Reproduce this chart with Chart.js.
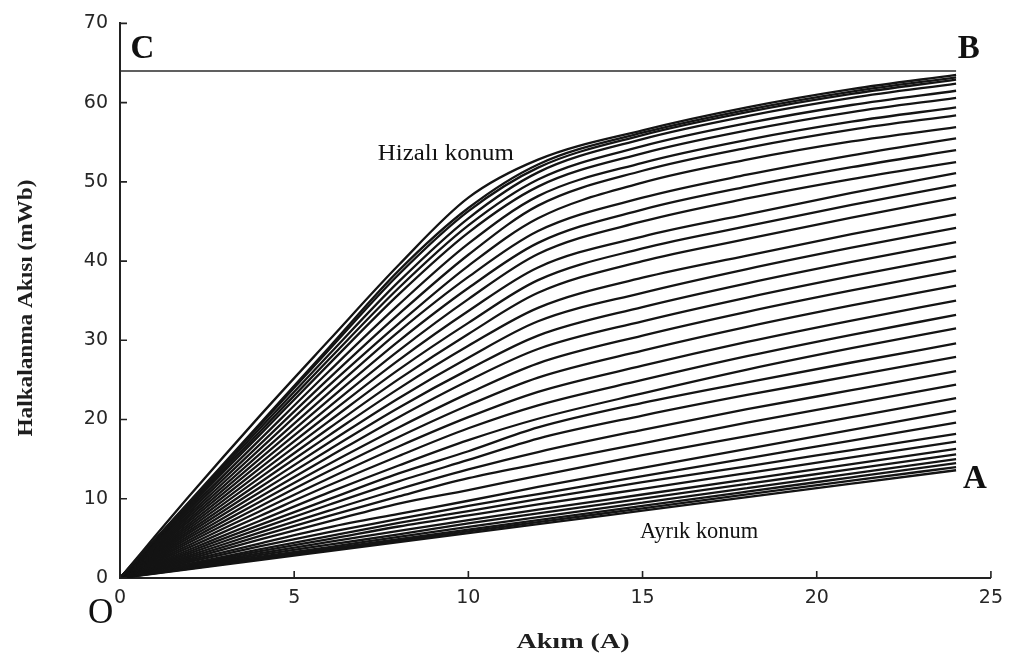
<!DOCTYPE html>
<html>
<head>
<meta charset="utf-8">
<title>Halkalanma akısı – akım eğrileri</title>
<script src="https://cdn.jsdelivr.net/npm/chart.js@4"></script>
<style>
  html, body { margin: 0; padding: 0; background: #ffffff; }
  #wrap { width: 1012px; height: 662px; }
</style>
</head>
<body>
<div id="wrap"><canvas id="chart"></canvas></div>
<script>
// Current samples (A) shared by every flux-linkage curve
const currentA = [0, 2, 4, 6, 8, 10, 12, 15, 18, 21, 24];

// Flux linkage (mWb), one curve per rotor position, aligned (psi00) to unaligned (psi38)
const psi00 = [0, 10.4, 20.4, 30.0, 39.5, 48.0, 52.8, 56.5, 59.4, 61.7, 63.5];
const psi01 = [0, 9.7, 19.4, 29.1, 38.8, 46.7, 52.2, 56.2, 59.1, 61.4, 63.2];
const psi02 = [0, 9.6, 19.2, 28.8, 38.3, 46.3, 51.8, 55.9, 58.8, 61.1, 62.9];
const psi03 = [0, 9.4, 18.8, 28.2, 37.4, 45.4, 51.2, 55.4, 58.3, 60.6, 62.4];
const psi04 = [0, 9.2, 18.4, 27.6, 36.6, 44.5, 50.3, 54.5, 57.4, 59.7, 61.5];
const psi05 = [0, 9.0, 18.0, 27.0, 35.8, 43.6, 49.4, 53.6, 56.5, 58.8, 60.6];
const psi06 = [0, 8.7, 17.4, 26.1, 34.5, 42.2, 48.2, 52.4, 55.3, 57.6, 59.4];
const psi07 = [0, 8.4, 16.8, 25.2, 33.3, 40.8, 47.0, 51.4, 54.3, 56.6, 58.4];
const psi08 = [0, 8.1, 16.2, 24.3, 32.1, 39.4, 45.4, 49.9, 52.8, 55.1, 56.9];
const psi09 = [0, 7.8, 15.6, 23.4, 31.1, 38.0, 43.8, 48.0, 50.9, 53.35, 55.5];
const psi10 = [0, 7.5, 15.0, 22.5, 29.9, 36.6, 42.3, 46.5, 49.4, 51.85, 54.0];
const psi11 = [0, 7.2, 14.4, 21.6, 28.7, 35.2, 40.9, 45.0, 47.9, 50.35, 52.5];
const psi12 = [0, 6.9, 13.8, 20.7, 27.5, 33.7, 39.2, 43.1, 45.9, 48.6, 51.1];
const psi13 = [0, 6.6, 13.2, 19.8, 26.3, 32.2, 37.6, 41.6, 44.4, 47.1, 49.6];
const psi14 = [0, 6.3, 12.6, 18.9, 25.1, 30.8, 36.0, 40.0, 42.8, 45.5, 48.0];
const psi15 = [0, 6.0, 12.0, 18.0, 23.9, 29.3, 34.1, 37.9, 40.7, 43.4, 45.9];
const psi16 = [0, 5.7, 11.4, 17.1, 22.7, 27.8, 32.4, 36.0, 39.0, 41.7, 44.2];
const psi17 = [0, 5.4, 10.8, 16.2, 21.5, 26.3, 30.6, 34.2, 37.2, 39.9, 42.4];
const psi18 = [0, 5.1, 10.2, 15.3, 20.3, 24.9, 28.9, 32.4, 35.4, 38.1, 40.6];
const psi19 = [0, 4.8, 9.6, 14.4, 19.0, 23.3, 27.1, 30.6, 33.6, 36.3, 38.8];
const psi20 = [0, 4.5, 9.0, 13.5, 17.8, 21.8, 25.3, 28.7, 31.7, 34.4, 36.9];
const psi21 = [0, 4.2, 8.4, 12.6, 16.6, 20.3, 23.5, 26.8, 29.8, 32.5, 35.0];
const psi22 = [0, 3.9, 7.8, 11.7, 15.4, 18.9, 21.8, 25.0, 28.0, 30.7, 33.2];
const psi23 = [0, 3.6, 7.2, 10.8, 14.2, 17.4, 20.1, 23.3, 26.3, 29.0, 31.5];
const psi24 = [0, 3.34, 6.68, 9.95, 13.2, 16.0, 19.0, 22.1, 24.7, 27.2, 29.6];
const psi25 = [0, 3.1, 6.2, 9.25, 12.2, 14.9, 17.6, 20.5, 23.1, 25.5, 27.9];
const psi26 = [0, 2.86, 5.72, 8.5, 11.2, 13.7, 15.9, 18.7, 21.3, 23.7, 26.1];
const psi27 = [0, 2.64, 5.28, 7.85, 10.3, 12.6, 14.4, 17.0, 19.6, 22.0, 24.4];
const psi28 = [0, 2.42, 4.84, 7.15, 9.4, 11.1, 12.9, 15.5, 17.9, 20.3, 22.7];
const psi29 = [0, 2.22, 4.35, 6.4, 8.1, 9.75, 11.5, 13.9, 16.3, 18.7, 21.1];
const psi30 = [0, 2.04, 4.0, 5.8, 7.45, 9.1, 10.6, 12.85, 15.1, 17.35, 19.6];
const psi31 = [0, 1.8, 3.6, 5.3, 6.95, 8.45, 9.95, 12.1, 14.1, 16.15, 18.2];
const psi32 = [0, 1.68, 3.36, 4.9, 6.5, 7.9, 9.28, 11.26, 13.24, 15.22, 17.2];
const psi33 = [0, 1.56, 3.12, 4.55, 5.95, 7.3, 8.62, 10.54, 12.46, 14.38, 16.3];
const psi34 = [0, 1.44, 2.88, 4.2, 5.5, 6.9, 8.16, 10.02, 11.88, 13.74, 15.6];
const psi35 = [0, 1.34, 2.68, 3.9, 5.2, 6.46, 7.68, 9.51, 11.34, 13.17, 15.0];
const psi36 = [0, 1.26, 2.5, 3.7, 4.9, 6.1, 7.3, 9.1, 10.9, 12.7, 14.5];
const psi37 = [0, 1.2, 2.38, 3.55, 4.72, 5.88, 7.05, 8.8, 10.55, 12.28, 14.0];
const psi38 = [0, 1.13, 2.27, 3.4, 4.53, 5.67, 6.8, 8.5, 10.2, 11.9, 13.6];

const rotorCurves = [
  psi00, psi01, psi02, psi03, psi04, psi05, psi06, psi07, psi08, psi09,
  psi10, psi11, psi12, psi13, psi14, psi15, psi16, psi17, psi18, psi19,
  psi20, psi21, psi22, psi23, psi24, psi25, psi26, psi27, psi28, psi29,
  psi30, psi31, psi32, psi33, psi34, psi35, psi36, psi37, psi38
];

// Saturation limit line C–B
const limitCurrent = [0, 24];
const limitFlux = [64.0, 64.0];

// Axis ticks
const xTicks = [0, 5, 10, 15, 20, 25];
const yTicks = [0, 10, 20, 30, 40, 50, 60, 70];

// Text labels: [text, current (A), flux (mWb)] anchor = left baseline
const cornerLabels = [
  ['C', 0.3, 65.6],
  ['B', 24.05, 65.6],
  ['A', 24.2, 11.3],
];
const originLabel = ['O', -0.92, -5.65];
const curveNotes = [
  ['Hizalı konum', 7.4, 52.8, 136],
  ['Ayrık konum', 14.93, 5.1, 118],
];
const xTitle = 'Akım (A)';
const yTitle = 'Halkalanma Akısı (mWb)';

const INK = '#141414';

const datasets = rotorCurves.map((curve, i) => ({
  label: 'θ' + i,
  data: currentA.map((a, j) => ({ x: a, y: curve[j] })),
  borderColor: INK,
  borderWidth: 2.3,
  pointRadius: 0,
  fill: false,
  cubicInterpolationMode: 'monotone',
}));
datasets.push({
  label: 'limit',
  data: limitCurrent.map((a, j) => ({ x: a, y: limitFlux[j] })),
  borderColor: '#2b2b2b',
  borderWidth: 1.6,
  pointRadius: 0,
  fill: false,
});

function fittedText(ctx, text, x, y, width) {
  const w = ctx.measureText(text).width;
  ctx.save();
  ctx.translate(x, y);
  ctx.scale(width / w, 1);
  ctx.fillText(text, 0, 0);
  ctx.restore();
}

const decorPlugin = {
  id: 'decor',
  afterDraw(chart) {
    const { ctx, chartArea, scales } = chart;
    const sx = scales.x, sy = scales.y;
    ctx.save();
    // inward tick marks
    ctx.strokeStyle = '#222';
    ctx.lineWidth = 1.6;
    ctx.beginPath();
    xTicks.forEach(v => {
      const px = sx.getPixelForValue(v);
      ctx.moveTo(px, chartArea.bottom);
      ctx.lineTo(px, chartArea.bottom - 7);
    });
    yTicks.forEach(v => {
      const py = sy.getPixelForValue(v);
      ctx.moveTo(chartArea.left, py);
      ctx.lineTo(chartArea.left + 7, py);
    });
    ctx.stroke();

    ctx.fillStyle = '#111';
    ctx.textAlign = 'left';
    ctx.textBaseline = 'alphabetic';
    ctx.font = 'bold 33px "Liberation Serif"';
    cornerLabels.forEach(([t, a, f]) => {
      ctx.fillText(t, sx.getPixelForValue(a), sy.getPixelForValue(f));
    });
    ctx.font = '35px "Liberation Serif"';
    ctx.fillText(originLabel[0], sx.getPixelForValue(originLabel[1]), sy.getPixelForValue(originLabel[2]));

    ctx.font = '24px "Liberation Serif"';
    curveNotes.forEach(([t, a, f, w]) => {
      fittedText(ctx, t, sx.getPixelForValue(a), sy.getPixelForValue(f), w);
    });

    // axis titles
    ctx.fillStyle = '#1e1e1e';
    ctx.font = 'bold 20px "Liberation Serif"';
    ctx.textAlign = 'left';
    ctx.textBaseline = 'middle';
    ctx.save();
    ctx.translate(573, 643);
    const wx = ctx.measureText(xTitle).width;
    ctx.scale(113 / wx, 1);
    ctx.fillText(xTitle, -wx / 2, 0);
    ctx.restore();

    ctx.save();
    ctx.translate(27, 308);
    ctx.rotate(-Math.PI / 2);
    const wy = ctx.measureText(yTitle).width;
    ctx.scale(257 / wy, 1);
    ctx.fillText(yTitle, -wy / 2, 0);
    ctx.restore();

    ctx.restore();
  }
};

const tickFont = { family: 'DejaVu Sans', size: 19 };

new Chart(document.getElementById('chart'), {
  type: 'line',
  data: { datasets },
  options: {
    responsive: true,
    maintainAspectRatio: false,
    animation: false,
    devicePixelRatio: 1,
    layout: { padding: { top: 20, right: 21, left: 0, bottom: 0 } },
    plugins: { legend: { display: false }, tooltip: { enabled: false } },
    scales: {
      x: {
        type: 'linear',
        min: 0, max: 25,
        afterBuildTicks(s) { s.ticks = xTicks.map(v => ({ value: v })); },
        afterFit(s) { s.height = 84; },
        grid: { display: false, drawTicks: false },
        border: { display: true, color: '#222', width: 2 },
        ticks: { padding: 9, font: tickFont, color: '#262626', maxRotation: 0 },
      },
      y: {
        type: 'linear',
        min: 0, max: 70,
        afterBuildTicks(s) { s.ticks = yTicks.map(v => ({ value: v })); },
        afterFit(s) { s.width = 120; },
        grid: { display: false, drawTicks: false },
        border: { display: true, color: '#222', width: 2 },
        ticks: { padding: 12, font: tickFont, color: '#262626' },
      },
    },
  },
  plugins: [decorPlugin],
});
</script>
</body>
</html>
